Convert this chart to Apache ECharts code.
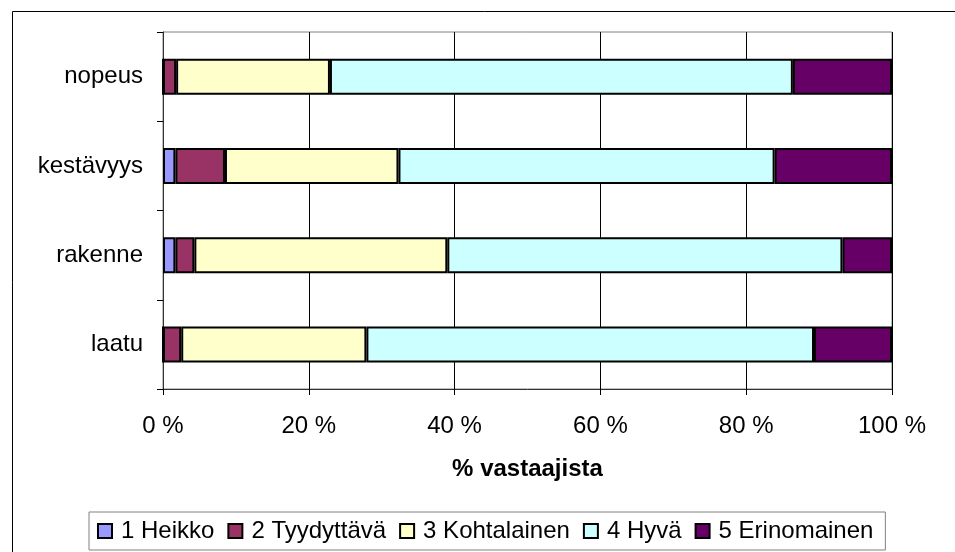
<!DOCTYPE html>
<html>
<head>
<meta charset="utf-8">
<script src="https://cdn.jsdelivr.net/npm/echarts@6/dist/echarts.min.js"></script>
<style>
html,body{margin:0;padding:0;background:#fff;}
#chart{width:955px;height:552px;}
</style>
</head>
<body>
<div id="chart"></div>
<script>
const categories = ['laatu', 'rakenne', 'kestävyys', 'nopeus'];
const seriesNames = ['1 Heikko', '2 Tyydyttävä', '3 Kohtalainen', '4 Hyvä', '5 Erinomainen'];
const heikko = [0, 1.7, 1.7, 0];
const tyydyttava = [2.5, 2.6, 6.8, 1.8];
const kohtalainen = [25.4, 34.7, 23.8, 21.1];
const hyva = [61.4, 54.2, 51.6, 63.5];
const erinomainen = [10.7, 6.8, 16.1, 13.6];
const xTicks = [0, 20, 40, 60, 80, 100];
const axisTitle = '% vastaajista';

const values = [heikko, tyydyttava, kohtalainen, hyva, erinomainen];
const colors = ['#9999FF', '#993366', '#FFFFCC', '#CCFFFF', '#660066'];
const FONT = "'Liberation Sans', Arial, sans-serif";

const chart = echarts.init(document.getElementById('chart'), null, {renderer: 'canvas'});
chart.setOption({
  animation: false,
  backgroundColor: '#fff',
  textStyle: {fontFamily: FONT, color: '#000'},
  graphic: [{
    type: 'rect',
    shape: {x: 12.5, y: 11.5, width: 1000, height: 1000},
    style: {fill: 'none', stroke: '#000', lineWidth: 1},
    silent: true
  }],
  grid: {
    left: 163, top: 32, right: 63, bottom: 163,
    show: true, borderColor: '#808080', borderWidth: 1, backgroundColor: 'transparent'
  },
  legend: {
    left: 89, top: 512,
    orient: 'horizontal',
    padding: [7, 12, 7, 8],
    borderColor: '#808080', borderWidth: 1,
    itemWidth: 14, itemHeight: 14, itemGap: 13,
    icon: 'rect',
    textStyle: {fontFamily: FONT, fontSize: 24, color: '#000', padding: [0, 0, 0, 4], lineHeight: 24},
    data: seriesNames
  },
  xAxis: {
    type: 'value',
    min: xTicks[0], max: xTicks[xTicks.length - 1], interval: 20,
    name: axisTitle,
    nameLocation: 'middle',
    nameGap: 68,
    nameTextStyle: {fontFamily: FONT, fontSize: 24, fontWeight: 'bold', color: '#000'},
    axisLine: {show: true, lineStyle: {color: '#333', width: 1}},
    axisTick: {show: true, length: 6, lineStyle: {color: '#000'}},
    axisLabel: {fontFamily: FONT, fontSize: 24, color: '#000', margin: 25, formatter: '{value} %'},
    splitLine: {show: true, lineStyle: {color: '#000', width: 1}}
  },
  yAxis: {
    type: 'category',
    data: categories,
    axisLine: {show: true, lineStyle: {color: '#333', width: 1}},
    axisTick: {show: true, length: 6, lineStyle: {color: '#000'}},
    axisLabel: {fontFamily: FONT, fontSize: 24, color: '#000', margin: 20},
    splitLine: {show: false}
  },
  series: seriesNames.map((name, i) => ({
    name: name,
    type: 'bar',
    stack: 'total',
    barWidth: 36,
    data: values[i],
    itemStyle: {color: colors[i], borderColor: '#000', borderWidth: 2},
    legendHoverLink: false,
    emphasis: {disabled: true}
  }))
});
</script>
</body>
</html>
